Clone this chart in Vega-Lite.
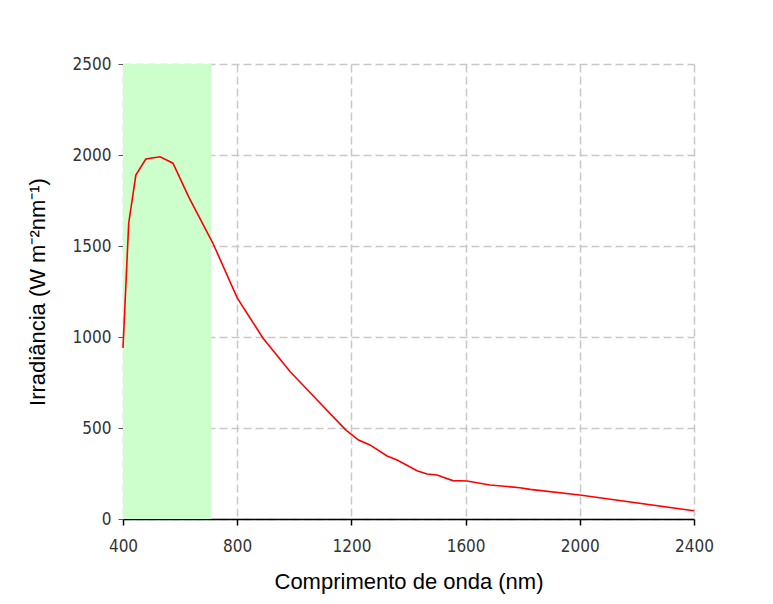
{
  "$schema": "https://vega.github.io/schema/vega-lite/v6.json",
  "autosize": "none",
  "width": 571,
  "height": 455,
  "padding": {"left": 123, "top": 64, "right": 79, "bottom": 85},
  "background": "white",
  "config": {"view": {"stroke": null}},
  "datasets": {
    "band": [{"x1": 400, "x2": 710, "y1": 0, "y2": 2500}],
    "spectrum": [
      {"nm": 400, "irr": 940},
      {"nm": 420, "irr": 1625},
      {"nm": 445, "irr": 1890},
      {"nm": 480, "irr": 1978},
      {"nm": 530, "irr": 1990},
      {"nm": 575, "irr": 1955},
      {"nm": 630, "irr": 1770},
      {"nm": 715, "irr": 1515},
      {"nm": 800, "irr": 1215},
      {"nm": 890, "irr": 995},
      {"nm": 985, "irr": 810},
      {"nm": 1080, "irr": 654},
      {"nm": 1180, "irr": 490},
      {"nm": 1225, "irr": 434},
      {"nm": 1265, "irr": 407},
      {"nm": 1325, "irr": 346},
      {"nm": 1360, "irr": 324},
      {"nm": 1430, "irr": 265},
      {"nm": 1465, "irr": 247},
      {"nm": 1500, "irr": 242},
      {"nm": 1555, "irr": 211},
      {"nm": 1605, "irr": 209},
      {"nm": 1685, "irr": 187},
      {"nm": 1790, "irr": 172},
      {"nm": 1826, "irr": 163},
      {"nm": 2000, "irr": 132},
      {"nm": 2400, "irr": 45}
    ]
  },
  "layer": [
    {
      "data": {"name": "band"},
      "mark": {"type": "rect", "color": "#ccffcc", "opacity": 1},
      "encoding": {
        "x": {"field": "x1", "type": "quantitative", "scale": {"domain": [400, 2400], "nice": false, "zero": false},
          "axis": {
            "values": [400, 800, 1200, 1600, 2000, 2400],
            "format": "d",
            "labelFlush": false,
            "title": "Comprimento de onda (nm)",
            "titleFont": "Liberation Sans", "titleFontSize": 22, "titleFontWeight": "normal", "titleColor": "#000000", "titlePadding": 17,
            "labelFont": "'Liberation Sans Narrow', 'DejaVu Sans Condensed', 'Liberation Sans', sans-serif", "labelFontSize": 17, "labelColor": "#333333", "labelPadding": 13,
            "domainColor": "#000000", "domainWidth": 1.5,
            "tickColor": "#000000", "tickSize": 6, "tickWidth": 1.5,
            "grid": true, "gridColor": "#c8c8c8", "gridDash": [8, 4], "gridWidth": 1.5
          }},
        "x2": {"field": "x2"},
        "y": {"field": "y1", "type": "quantitative", "scale": {"domain": [0, 2500], "nice": false},
          "axis": {
            "values": [0, 500, 1000, 1500, 2000, 2500],
            "format": "d",
            "labelFlush": false,
            "title": "Irradiância (W m⁻²nm⁻¹)",
            "titleFont": "Liberation Sans", "titleFontSize": 22, "titleFontWeight": "normal", "titleColor": "#000000", "titlePadding": 23,
            "labelFont": "'Liberation Sans Narrow', 'DejaVu Sans Condensed', 'Liberation Sans', sans-serif", "labelFontSize": 17, "labelColor": "#333333", "labelPadding": 7,
            "domain": false,
            "tickColor": "#555555", "tickSize": 5, "tickWidth": 1,
            "grid": true, "gridColor": "#c8c8c8", "gridDash": [8, 4], "gridWidth": 1.5
          }},
        "y2": {"field": "y2"}
      }
    },
    {
      "data": {"name": "spectrum"},
      "mark": {"type": "line", "color": "#ff0000", "strokeWidth": 1.6},
      "encoding": {
        "x": {"field": "nm", "type": "quantitative"},
        "y": {"field": "irr", "type": "quantitative"}
      }
    }
  ]
}
